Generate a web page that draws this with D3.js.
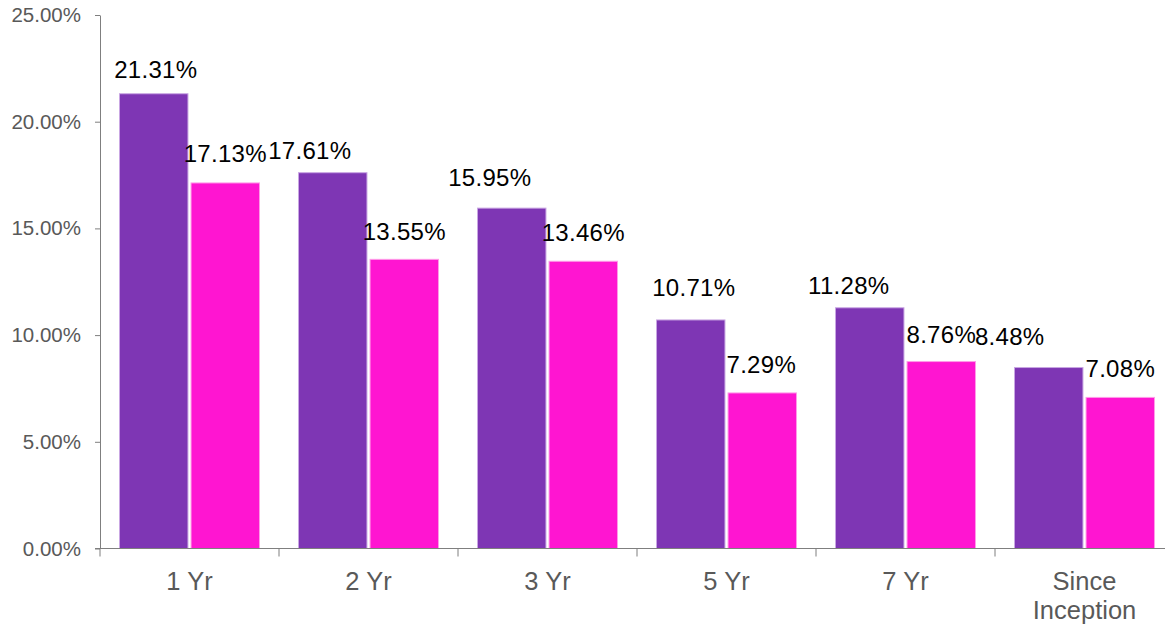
<!DOCTYPE html>
<html>
<head>
<meta charset="utf-8">
<script src="https://cdn.jsdelivr.net/npm/d3@7"></script>
<style>
  html, body { margin: 0; padding: 0; background: #fff; }
  svg { display: block; }
</style>
</head>
<body>
<svg id="chart" width="1165" height="626"></svg>
<script>
// ---- data ----
const categories = ["1 Yr", "2 Yr", "3 Yr", "5 Yr", "7 Yr", "Since Inception"];
const seriesNames = ["Fund", "Benchmark"];
const fundValues = [21.31, 17.61, 15.95, 10.71, 11.28, 8.48];
const benchmarkValues = [17.13, 13.55, 13.46, 7.29, 8.76, 7.08];
const yTicks = [0, 5, 10, 15, 20, 25];

(function () {
// ---- layout (label nudges, as placed in the original) ----
const labelDx = [[2, -23, -22, 3, -21, -39], [0, 0, 0, -1, 0, 0]];
const labelDy = [[4, 6, -2, -4, 6, -3], [-1, 1, 0, 0, 1, 0]];
const colors = ["#7e36b4", "#ff15d1"];
const strokes = ["#c9a6e3", "#ff9be8"];

const svg = d3.select("#chart");
const mLeft = 100, mRight = 1174, mTop = 15, mBottom = 548.5;

const y = d3.scaleLinear().domain([0, 25]).range([mBottom, mTop]);
const x0 = d3.scaleBand().domain(categories).range([mLeft, mRight]).padding(0);
const x1 = d3.scaleBand().domain(seriesNames).range([19.5, 159.5]).paddingInner(0.043);

const font = "'Liberation Sans', Arial, Helvetica, sans-serif";

// y axis
const yAxis = d3.axisLeft(y).tickValues(yTicks).tickSizeInner(5).tickSizeOuter(0)
  .tickPadding(14).tickFormat(d => d.toFixed(2) + "%");
const gy = svg.append("g").attr("transform", `translate(${mLeft},0)`).call(yAxis);
gy.select(".domain").attr("stroke", "#7f7f7f");
gy.selectAll(".tick line").attr("stroke", "#7f7f7f");
gy.selectAll(".tick text").attr("fill", "#595959").style("font-family", font).style("font-size", "20.5px");

// bars
const data = categories.map((c, i) => ({ cat: c, vals: [fundValues[i], benchmarkValues[i]] }));
const groups = svg.append("g").selectAll("g").data(data).join("g")
  .attr("transform", d => `translate(${x0(d.cat)},0)`);

groups.selectAll("rect").data(d => d.vals.map((v, k) => ({ v, k })))
  .join("rect")
  .attr("x", d => x1(seriesNames[d.k]))
  .attr("width", x1.bandwidth())
  .attr("y", d => y(d.v))
  .attr("height", d => y(0) - y(d.v))
  .attr("fill", d => colors[d.k])
  .attr("stroke", d => strokes[d.k])
  .attr("stroke-width", 1);

// x axis
const xAxisLine = svg.append("g");
xAxisLine.append("line").attr("x1", mLeft - 5).attr("x2", mRight).attr("y1", mBottom).attr("y2", mBottom)
  .attr("stroke", "#7f7f7f").attr("stroke-width", 1);
const boundaries = categories.map(c => x0(c));
xAxisLine.selectAll("line.tk").data(boundaries).join("line").attr("class", "tk")
  .attr("x1", d => d).attr("x2", d => d).attr("y1", mBottom).attr("y2", mBottom + 8)
  .attr("stroke", "#7f7f7f");

// x labels
const xl = svg.append("g").selectAll("text").data(categories).join("text")
  .attr("x", d => x0(d) + x0.bandwidth() / 2)
  .attr("y", 590)
  .attr("text-anchor", "middle")
  .attr("fill", "#595959")
  .style("font-family", font).style("font-size", "25.5px");
xl.each(function(d) {
  const words = d === "Since Inception" ? ["Since", "Inception"] : [d];
  const t = d3.select(this);
  words.forEach((w, i) => {
    t.append("tspan").attr("x", x0(d) + x0.bandwidth() / 2).attr("dy", i === 0 ? 0 : 29).text(w);
  });
});

// data labels
const labels = svg.append("g");
[fundValues, benchmarkValues].forEach((vals, k) => {
  labels.selectAll(null).data(vals).join("text")
    .attr("x", (v, i) => x0(categories[i]) + x1(seriesNames[k]) + x1.bandwidth() / 2 + labelDx[k][i])
    .attr("y", (v, i) => y(v) - 20 + labelDy[k][i])
    .attr("text-anchor", "middle")
    .attr("fill", "#000")
    .style("font-family", font).style("font-size", "24px").style("letter-spacing", "0.3px")
    .text(v => v.toFixed(2) + "%");
});
})();
</script>
</body>
</html>
